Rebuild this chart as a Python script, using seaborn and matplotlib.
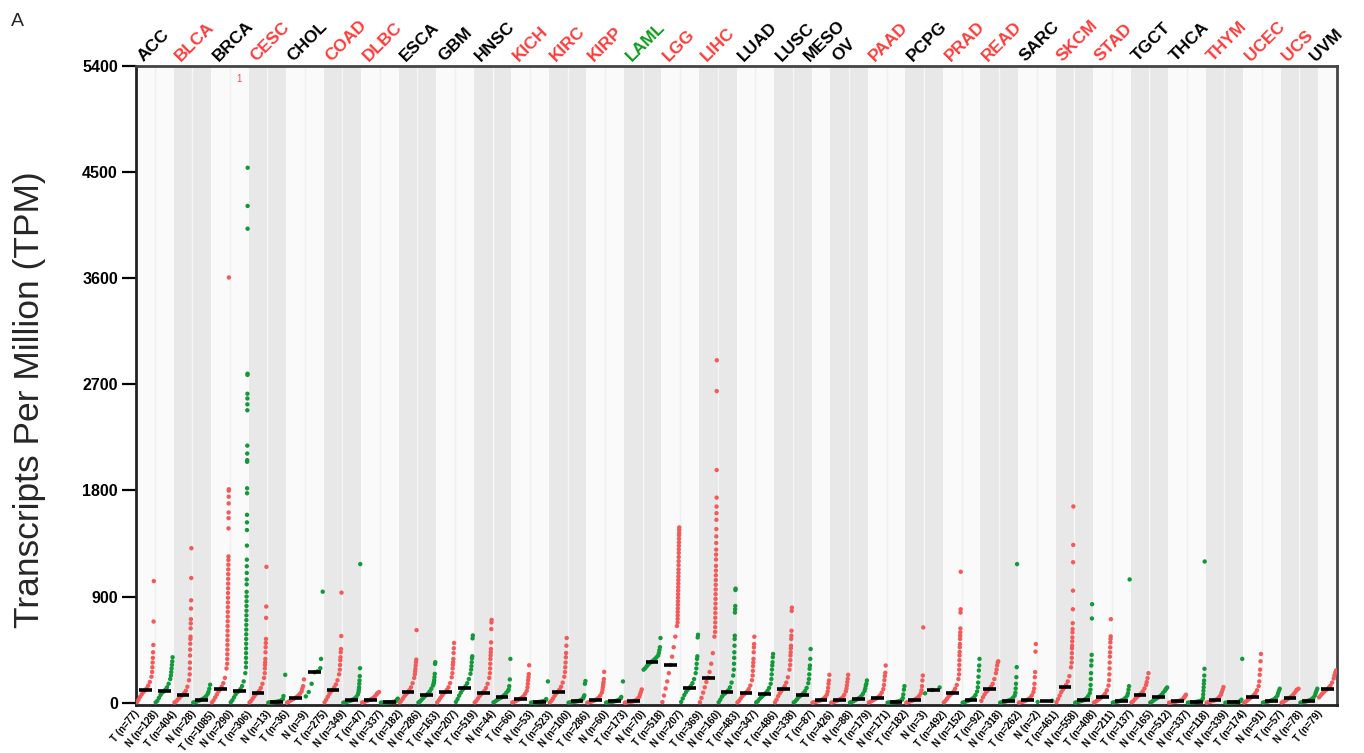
import numpy as np
import pandas as pd
import matplotlib
matplotlib.use("Agg")
import matplotlib.pyplot as plt
import matplotlib.transforms as mtransforms
import seaborn as sns

# ---------------------------------------------------------------- data
cancer_names = ["ACC", "BLCA", "BRCA", "CESC", "CHOL", "COAD", "DLBC", "ESCA", "GBM",
                "HNSC", "KICH", "KIRC", "KIRP", "LAML", "LGG", "LIHC", "LUAD", "LUSC",
                "MESO", "OV", "PAAD", "PCPG", "PRAD", "READ", "SARC", "SKCM", "STAD",
                "TGCT", "THCA", "THYM", "UCEC", "UCS", "UVM"]
# up = higher in tumour, down = lower in tumour, ns = no significant change
cancer_status = ["ns", "up", "ns", "up", "ns", "up", "up", "ns", "ns", "ns", "up", "up",
                 "up", "down", "up", "up", "ns", "ns", "ns", "ns", "up", "ns", "up", "up",
                 "ns", "up", "up", "ns", "ns", "up", "up", "up", "ns"]
tumor_n = [77, 404, 1085, 306, 36, 275, 47, 182, 163, 519, 66, 523, 286, 173, 518, 369,
           483, 486, 87, 426, 179, 182, 492, 92, 262, 461, 408, 137, 512, 118, 174, 57, 79]
normal_n = [128, 28, 290, 13, 9, 349, 337, 286, 207, 44, 53, 100, 60, 70, 207, 160,
            347, 338, None, 88, 171, 3, 152, 318, 2, 558, 211, 165, 337, 339, 91, 78, None]

# per sample group (tumour then normal, in cancer order): median TPM
median_tpm = [104, 96, 65, 25, 112, 98, 84, 8, 39, 258, 110, 20, 25, 3, 87, 65, 90, 124,
              84, 45, 34, 6, 93, 11, 22, 11, 11, 348, 320, 124, 211, 90, 81, 70, 118, 67,
              20, 25, 34, 39, 6, 25, 107, 79, 25, 118, 17, 22, 11, 129, 20, 48, 17, 65,
              45, 11, 6, 20, 2, 51, 17, 42, 17, 115]

# sorted TPM values of the bulk of each group (lower ~90 %)
tpm_bulk = [
    [3, 25, 50, 72, 90, 104, 120, 145, 175, 220],            # ACC T
    [2, 15, 40, 65, 85, 96, 110, 130, 160, 200],             # ACC N
    [1, 10, 25, 40, 55, 65, 80, 100, 135, 190],              # BLCA T
    [1, 4, 8, 14, 20, 25, 32, 42, 55, 75],                   # BLCA N
    [2, 20, 45, 70, 95, 112, 135, 165, 210, 290],            # BRCA T
    [3, 20, 45, 70, 88, 98, 115, 140, 180, 250],             # BRCA N
    [2, 15, 35, 55, 72, 84, 100, 125, 160, 210],             # CESC T
    [0, 1, 2, 3, 5, 6, 8, 10, 14, 20, 30],                   # CESC N
    [1, 8, 16, 24, 32, 39, 48, 60, 75, 95],                  # CHOL T
    [53, 90, 160, 258, 265, 292],                            # CHOL N
    [3, 25, 50, 75, 95, 110, 130, 155, 190, 240],            # COAD T
    [0, 3, 7, 11, 15, 20, 26, 35, 48, 70],                   # COAD N
    [1, 5, 10, 15, 20, 25, 32, 42, 55, 70],                  # DLBC T
    [0, 0, 1, 1, 2, 3, 4, 5, 7, 10],                         # DLBC N
    [2, 15, 35, 55, 72, 87, 105, 130, 165, 210],             # ESCA T
    [1, 10, 25, 40, 55, 65, 78, 95, 118, 145],               # ESCA N
    [2, 20, 40, 60, 78, 90, 108, 130, 165, 215],             # GBM T
    [6, 30, 60, 85, 108, 124, 140, 165, 200, 245],           # GBM N
    [2, 15, 35, 55, 72, 84, 100, 125, 160, 210],             # HNSC T
    [2, 10, 20, 30, 38, 45, 55, 68, 85, 100],                # HNSC N
    [1, 6, 12, 20, 27, 34, 42, 55, 75, 100],                 # KICH T
    [0, 1, 2, 3, 4, 6, 8, 10, 14, 20],                       # KICH N
    [2, 15, 35, 58, 78, 93, 110, 135, 170, 220],             # KIRC T
    [0, 2, 4, 6, 8, 11, 14, 18, 25, 35],                     # KIRC N
    [0, 3, 7, 11, 16, 22, 30, 42, 60, 85],                   # KIRP T
    [0, 2, 4, 6, 8, 11, 14, 18, 25, 35],                     # KIRP N
    [0, 2, 4, 6, 8, 11, 15, 22, 35, 50],                     # LAML T
    [280, 292, 310, 325, 338, 348, 358, 370, 385, 400],      # LAML N
    [5, 60, 120, 180, 250, 320, 390, 470, 560, 650],         # LGG T
    [6, 35, 65, 90, 110, 124, 140, 165, 200, 250],           # LGG N
    [3, 40, 85, 130, 175, 211, 260, 330, 420, 560],          # LIHC T
    [3, 25, 50, 68, 80, 90, 105, 130, 170, 230],             # LIHC N
    [2, 15, 35, 55, 70, 81, 95, 115, 145, 190],              # LUAD T
    [2, 12, 30, 45, 58, 70, 82, 100, 125, 160],              # LUAD N
    [3, 25, 55, 80, 100, 118, 140, 170, 215, 280],           # LUSC T
    [2, 12, 28, 45, 57, 67, 80, 98, 125, 165],               # LUSC N
    [0, 3, 7, 11, 15, 20, 26, 35, 50, 70],                   # MESO T
    [0, 4, 9, 14, 19, 25, 33, 45, 65, 95],                   # OV T
    [1, 6, 12, 20, 27, 34, 42, 55, 75, 100],                 # OV N
    [1, 7, 15, 23, 31, 39, 48, 62, 85, 115],                 # PAAD T
    [0, 1, 2, 3, 4, 6, 8, 11, 16, 25],                       # PAAD N
    [0, 4, 9, 14, 19, 25, 32, 42, 58, 80],                   # PCPG T
    [79, 107, 129],                                          # PCPG N
    [2, 15, 33, 52, 67, 79, 95, 118, 150, 200],              # PRAD T
    [0, 4, 9, 14, 19, 25, 33, 45, 65, 95],                   # PRAD N
    [15, 45, 70, 90, 105, 118, 135, 160, 200, 250],          # READ T
    [0, 3, 6, 9, 13, 17, 22, 30, 42, 60],                    # READ N
    [0, 3, 7, 11, 16, 22, 30, 42, 62, 90],                   # SARC T
    [6, 16],                                                 # SARC N
    [3, 30, 60, 90, 112, 129, 150, 180, 225, 300],           # SKCM T
    [0, 3, 7, 11, 15, 20, 27, 38, 55, 80],                   # SKCM N
    [1, 8, 18, 28, 38, 48, 60, 78, 105, 145],                # STAD T
    [0, 3, 6, 9, 13, 17, 22, 30, 42, 60],                    # STAD N
    [2, 12, 27, 42, 55, 65, 78, 95, 120, 150],               # TGCT T
    [1, 8, 18, 28, 37, 45, 55, 68, 85, 100],                 # TGCT N
    [0, 2, 4, 6, 8, 11, 14, 18, 25, 35],                     # THCA T
    [0, 1, 2, 3, 4, 6, 8, 11, 16, 25],                       # THCA N
    [0, 3, 7, 11, 15, 20, 26, 35, 50, 70],                   # THYM T
    [0, 0, 1, 1, 2, 2, 3, 4, 6, 10],                         # THYM N
    [1, 8, 18, 30, 41, 51, 63, 80, 105, 140],                # UCEC T
    [0, 3, 6, 9, 13, 17, 22, 30, 42, 60],                    # UCEC N
    [1, 7, 15, 24, 33, 42, 52, 65, 82, 100],                 # UCS T
    [0, 3, 6, 9, 13, 17, 22, 30, 42, 60],                    # UCS N
    [45, 62, 78, 92, 105, 115, 128, 145, 170, 205],          # UVM T
]

# sorted TPM values of the upper tail of each group (highest samples)
tpm_upper = [
    [260, 300, 340, 380, 427, 489, 688, 1031],
    [230, 260, 290, 320, 350, 385],
    [240, 290, 340, 400, 450, 500, 540, 560, 630, 672, 708, 798, 868, 1057, 1310],
    [90, 118, 152],
    [330, 370, 410, 450, 490, 530, 570, 610, 650, 690, 730, 770, 810, 850, 890, 930, 970,
     1010, 1050, 1090, 1130, 1170, 1210, 1240, 1478, 1565, 1613, 1690, 1747, 1798, 1810, 3606],
    [300, 340, 380, 420, 460, 500, 540, 580, 620, 660, 700, 740, 780, 820, 860, 900, 940,
     1003, 1045, 1100, 1157, 1213, 1332, 1464, 1529, 1593, 1776, 1818, 2043, 2057, 2113,
     2180, 2480, 2530, 2580, 2620, 2780, 2790, 4020, 4213, 4537],
    [250, 290, 320, 343, 371, 427, 470, 506, 540, 719, 815, 1152],
    [56, 236],
    [118, 140, 197],
    [371, 941],
    [280, 320, 360, 385, 427, 455, 565, 933],
    [90, 110, 130, 160, 188, 225, 292, 1175],
    [80, 90],
    [14, 20, 28, 34],
    [240, 265, 287, 315, 343, 365, 615],
    [160, 174, 190, 216, 244, 329, 343],
    [250, 290, 320, 343, 371, 421, 461, 506],
    [280, 310, 343, 376, 393, 545, 570],
    [250, 290, 330, 370, 400, 427, 455, 511, 624, 680, 702],
    [112, 140, 197, 371],
    [130, 160, 190, 216, 242, 317],
    [30, 180],
    [260, 300, 340, 385, 421, 483, 548],
    [50, 62, 160, 183],
    [110, 132, 155, 174, 200, 261],
    [48, 180],
    [70, 90, 112],
    [420, 445, 470, 548],
    [680, 710, 740, 770, 800, 830, 860, 890, 920, 950, 980, 1010, 1040, 1070, 1100, 1130,
     1166, 1200, 1235, 1270, 1300, 1330, 1360, 1390, 1420, 1440, 1465, 1486],
    [290, 330, 371, 393, 553, 576],
    [600, 640, 680, 720, 760, 800, 840, 880, 920, 960, 1000, 1040, 1080, 1120, 1160, 1214,
     1256, 1298, 1354, 1410, 1472, 1551, 1607, 1663, 1739, 1973, 2643, 2904],
    [280, 330, 380, 427, 483, 540, 568, 764, 792, 820, 955, 967],
    [230, 270, 310, 340, 371, 427, 469, 497, 559],
    [200, 240, 280, 315, 343, 385, 413],
    [320, 360, 400, 427, 460, 483, 540, 568, 610, 778, 806],
    [200, 240, 287, 315, 371, 455],
    [95, 125, 160, 188, 236],
    [120, 146, 175, 202, 236],
    [120, 146, 160, 188],
    [150, 190, 225, 253, 315],
    [40, 70, 110, 140],
    [105, 140, 188, 230, 638],
    [],
    [240, 280, 320, 360, 400, 430, 470, 497, 540, 568, 596, 629, 764, 792, 1110],
    [130, 170, 220, 273, 315, 371],
    [280, 315, 340, 351],
    [85, 120, 160, 216, 301, 1175],
    [120, 160, 216, 259, 433, 497],
    [],
    [340, 380, 420, 460, 483, 520, 553, 596, 624, 674, 792, 950, 1191, 1338, 1664],
    [110, 150, 200, 250, 315, 357, 405, 714, 835],
    [190, 240, 290, 340, 390, 427, 469, 511, 540, 562, 708],
    [80, 110, 140, 1045],
    [174, 208, 250],
    [110, 120, 129],
    [45, 55, 67],
    [40, 70, 100, 130, 160, 188, 230, 287, 1197],
    [90, 110, 132],
    [15, 25, 371],
    [180, 236, 280, 351, 413],
    [80, 100, 118],
    [110, 118],
    [80, 100, 118],
    [230, 255, 273],
]

y_ticks = [0, 900, 1800, 2700, 3600, 4500, 5400]

# ---------------------------------------------------------------- columns
col_cancer, col_type, col_n = [], [], []
for name, nt, nn in zip(cancer_names, tumor_n, normal_n):
    col_cancer.append(name); col_type.append("T"); col_n.append(nt)
    if nn is not None:
        col_cancer.append(name); col_type.append("N"); col_n.append(nn)
n_cols = len(col_cancer)

rows = []
for k in range(n_cols):
    bulk, upper = tpm_bulk[k], tpm_upper[k]
    fb = np.linspace(0.0, 0.86, len(bulk)) if len(bulk) > 1 else np.array([0.43])
    fu = np.linspace(0.90, 1.0, len(upper)) if len(upper) > 1 else np.array([1.0] * len(upper))
    for f, v in zip(np.concatenate([fb, fu]), list(bulk) + list(upper)):
        rows.append({"x": k - 0.45 + 0.9 * f, "tpm": v, "type": col_type[k]})
points = pd.DataFrame(rows)

# ---------------------------------------------------------------- style
RED, GREEN = "#f35a5a", "#12993a"
LABEL_COLORS = {"up": "#ff3b3b", "down": "#109c1e", "ns": "#000000"}

sns.set_theme(style="white")
plt.rcParams["font.family"] = ["Liberation Sans", "DejaVu Sans"]

fig = plt.figure(figsize=(13.64, 7.53), dpi=100)
ax = fig.add_axes([136 / 1364, 1 - 705 / 753, (1337 - 136) / 1364, (705 - 66) / 753])

# alternating shaded bands, one per cancer type
cancer_index = {c: i for i, c in enumerate(cancer_names)}
for k in range(n_cols):
    shaded = cancer_index[col_cancer[k]] % 2 == 1
    ax.axvspan(k - 0.5, k + 0.5, color="#e8e8e8" if shaded else "#fafafa", lw=0, zorder=0)
for k in range(1, n_cols):
    if col_cancer[k] == col_cancer[k - 1]:
        shaded = cancer_index[col_cancer[k]] % 2 == 1
        ax.axvline(k - 0.5, color="#f6f6f6" if shaded else "#efefef", lw=1, zorder=0.5)

sns.scatterplot(data=points, x="x", y="tpm", hue="type", palette={"T": RED, "N": GREEN},
                s=10, linewidth=0, legend=False, ax=ax, zorder=3)

ax.hlines(median_tpm, np.arange(n_cols) - 0.34, np.arange(n_cols) + 0.34,
          color="black", lw=2.6, zorder=4)

# sample beyond the axis range
ax.text(5, 5290, "1", color="#ff4a4a", fontsize=7, ha="center", va="center", zorder=5)

ax.set_xlim(-0.5, n_cols - 0.5)
ax.set_ylim(-20, 5400)
ax.set_xticks([])
ax.set_yticks(y_ticks)
ax.set_yticklabels([str(t) for t in y_ticks], fontsize=11.5, fontweight="bold")
ax.tick_params(axis="y", length=10, width=1.6, direction="out", pad=3, colors="black",
               left=True)
ax.set_xlabel("")
ax.set_ylabel("")
for side in ["left", "bottom", "top", "right"]:
    ax.spines[side].set_visible(True)
    ax.spines[side].set_linewidth(2.0)
    ax.spines[side].set_color("#222222" if side in ("left", "bottom") else "#444444")

# cancer names above the panel
top_tr = mtransforms.blended_transform_factory(ax.transData, ax.transAxes)
k = 0
for name, status, nn in zip(cancer_names, cancer_status, normal_n):
    width = 2 if nn is not None else 1
    centre = k + (width - 1) / 2
    ax.text(centre - 0.6, 1.007, name, transform=top_tr, rotation=45,
            rotation_mode="anchor", ha="left", va="baseline", fontsize=12.5,
            fontweight="bold", color=LABEL_COLORS[status], clip_on=False)
    k += width

# group labels under the panel
for k in range(n_cols):
    ax.text(k - 0.6, -0.006, f"{col_type[k]} (n={col_n[k]})", transform=top_tr,
            rotation=50, rotation_mode="anchor", ha="right", va="top", fontsize=7,
            fontweight="bold", color="black", clip_on=False)

fig.text(30 / 1364, 1 - 400 / 753, "Transcripts Per Million (TPM)", rotation=90,
         ha="center", va="center", fontsize=25.5)
fig.text(11 / 1364, 1 - 22 / 753, "A", ha="left", va="center", fontsize=14)

fig.savefig("out.png", dpi=100)
